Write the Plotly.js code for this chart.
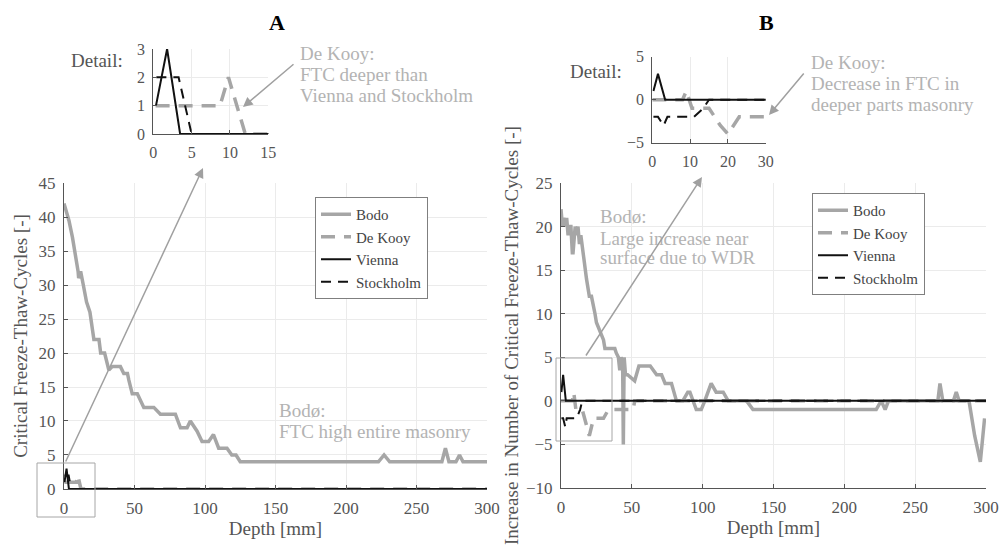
<!DOCTYPE html>
<html><head><meta charset="utf-8">
<script src="https://cdn.plot.ly/plotly-3.0.1.min.js"></script>
<style>html,body{margin:0;padding:0;background:#fff}#chart{width:1000px;height:546px}</style>
</head><body><div id="chart"></div>
<script>
// ---------- Panel A: critical freeze-thaw cycles ----------
const depthBodoA = [0, 3.5, 6, 8.3, 10, 10.4, 11.8, 13.7, 16, 18.4, 21.2, 24.8, 26, 28.8, 30.7, 31.8, 34.2, 40, 42.4, 45, 46, 48.4, 52, 56.6, 63.7, 68.4, 79, 82.6, 87.3, 89.6, 94.4, 97.9, 102.6, 106, 109.7, 115.6, 119, 122, 125, 223, 227, 231, 268, 270.5, 273, 278, 280.5, 283, 300];
const valBodoA   = [42, 39.5, 37, 34.5, 32, 31, 32, 30, 27.5, 26, 22, 22, 20, 20, 18, 17.5, 18, 18, 17, 17, 16, 14, 14, 12, 12, 11, 11, 9, 9, 10, 8.5, 7, 7, 8, 6, 6, 5, 5, 4, 4, 5, 4, 4, 6, 4, 4, 5, 4, 4];
const depthDeKooyA = [0.3, 8.7, 9.8, 12, 300];
const valDeKooyA   = [1, 1, 2, 0, 0];
const depthViennaA = [0.35, 1.8, 3.5, 300];
const valViennaA   = [1, 3, 0, 0];
const depthStockholmA = [0.4, 3.3, 5, 300];
const valStockholmA   = [2, 2, 0, 0];

// ---------- Panel B: increase in critical freeze-thaw cycles ----------
const depthBodoB = [0, 1, 2, 3, 4, 5, 6, 7, 8, 8.5, 10, 11, 12, 13, 14, 15, 16, 18, 20, 21.5, 23, 24, 25, 27.5, 30, 31, 38, 39, 40.5, 41.5, 42.5, 43.5, 44, 44.6, 45.5, 47, 49, 52, 55, 58, 63, 67.5, 71, 73.5, 78, 81.5, 86, 89.5, 91, 95.5, 99, 101.5, 106, 109.5, 114.5, 118, 131, 135.5, 222.5, 226, 228.8, 231.2, 266, 267.5, 269.5, 277, 279, 281, 288, 292, 296, 299];
const valBodoB   = [22, 20, 21, 20, 21, 19, 20, 20, 17, 17, 20, 19, 20, 18, 19, 18, 16.5, 14, 12, 12, 11, 10, 9, 8, 7, 6, 6, 5.5, 5, 3.5, 5, 4.5, -5, 5, 3, 3, 2.7, 2.3, 4, 4, 4, 3, 3, 2, 2, 0, 0, 1, 1, -1, -1, 0, 2, 1, 1, 0, 0, -1, -1, 0, -1, 0, 0, 2, 0, 0, 1, 0, 0, -4, -7, -2];
const depthDeKooyB = [0, 8, 9, 10.5, 15, 18, 20, 21.5, 23, 30, 33.5, 51, 52, 300];
const valDeKooyB   = [0, 0, 1, -1, -1, -3, -4, -3, -2, -2, -1, -1, 0, 0];
const depthViennaB = [0.3, 1.5, 3.4, 300];
const valViennaB   = [1, 3, 0, 0];
const depthStockholmB = [0.3, 1.5, 3, 4, 11, 13.5, 15, 300];
const valStockholmB   = [-2, -2, -3, -2, -2, -1, 0, 0];

const seriesNames = ['Bodo', 'De Kooy', 'Vienna', 'Stockholm'];

// ---------- styling ----------
const FONT = 'Liberation Serif, Times New Roman, serif';
const GRAY = '#a6a6a6';
const BLACK = '#111111';
const TXT = '#555555';
const NOTE = '#b3b3b3';
const styles = [
  {color: GRAY, width: 3.5, dash: 'solid'},
  {color: GRAY, width: 3.5, dash: '14px,9px'},
  {color: BLACK, width: 2, dash: 'solid'},
  {color: BLACK, width: 2, dash: '10px,7px'}
];

function line(x, y, i, xa, ya, legend, show) {
  return {x: x, y: y, type: 'scatter', mode: 'lines', name: seriesNames[i],
    xaxis: xa, yaxis: ya, legend: legend, showlegend: show, hoverinfo: 'skip',
    line: {color: styles[i].color, width: styles[i].width, dash: styles[i].dash}};
}
const setA = [[depthBodoA, valBodoA], [depthDeKooyA, valDeKooyA], [depthViennaA, valViennaA], [depthStockholmA, valStockholmA]];
const setB = [[depthBodoB, valBodoB], [depthDeKooyB, valDeKooyB], [depthViennaB, valViennaB], [depthStockholmB, valStockholmB]];
const traces = [];
setA.forEach((s, i) => traces.push(line(s[0], s[1], i, 'x', 'y', 'legend', true)));
setB.forEach((s, i) => traces.push(line(s[0], s[1], i, 'x2', 'y2', 'legend2', true)));
setA.forEach((s, i) => traces.push(line(s[0], s[1], i, 'x3', 'y3', 'legend', false)));
setB.forEach((s, i) => traces.push(line(s[0], s[1], i, 'x4', 'y4', 'legend', false)));

function ax(domain, range, dtick, anchor, size, extra) {
  return Object.assign({domain: domain, range: range, dtick: dtick, anchor: anchor,
    showline: true, linecolor: '#555', linewidth: 1, mirror: false,
    ticks: 'inside', ticklen: 4, tickcolor: '#555', ticklabelstandoff: 4,
    showgrid: true, gridcolor: '#ebebeb', gridwidth: 1, zeroline: false,
    tickfont: {family: FONT, size: size, color: TXT}, fixedrange: true}, extra || {});
}
const titleFont = {family: FONT, size: 19, color: TXT};

function P(px, py) { return {x: px / 1000, y: 1 - py / 546}; }
function arrow(hx, hy, tx, ty) {
  const h = P(hx, hy);
  return {x: h.x, y: h.y, xref: 'paper', yref: 'paper', text: '', showarrow: true,
    ax: tx - hx, ay: ty - hy, axref: 'pixel', ayref: 'pixel',
    arrowhead: 2, arrowsize: 1.3, arrowwidth: 1.5, arrowcolor: '#a0a0a0', standoff: 0};
}
function note(text, px, py, color, size, xanchor, yanchor, align) {
  const p = P(px, py);
  return {x: p.x, y: p.y, xref: 'paper', yref: 'paper', text: text, showarrow: false,
    xanchor: xanchor, yanchor: yanchor, align: align || 'left',
    font: {family: FONT, size: size, color: color}};
}
// multi-line note: one annotation per line, at the reference line centres
function noteLines(lines, px, centres) {
  return lines.map((t, k) => note(t, px, centres[k], NOTE, 19, 'left', 'middle'));
}

const layout = {
  width: 1000, height: 546,
  margin: {l: 0, r: 0, t: 0, b: 0},
  paper_bgcolor: '#fff', plot_bgcolor: '#fff',
  showlegend: true,
  xaxis: ax([0.064, 0.487], [0, 300], 50, 'y', 17, {title: {text: 'Depth [mm]', font: titleFont, standoff: 3}}),
  yaxis: ax([0.1044, 0.6648], [0, 45], 5, 'x', 17, {title: {text: 'Critical Freeze-Thaw-Cycles [-]', font: titleFont, standoff: 5}}),
  xaxis2: ax([0.561, 0.986], [0, 300], 50, 'y2', 17, {title: {text: 'Depth [mm]', font: titleFont, standoff: 3}}),
  yaxis2: ax([0.1062, 0.6648], [-10, 25], 5, 'x2', 17, {title: {text: 'Increase in Number of Critical Freeze-Thaw-Cycles [-]', font: titleFont, standoff: 2}}),
  xaxis3: ax([0.1533, 0.2683], [0, 15], 5, 'y3', 16),
  yaxis3: ax([0.7546, 0.9103], [0, 3], 1, 'x3', 16),
  xaxis4: ax([0.6523, 0.7657], [0, 30], 10, 'y4', 16),
  yaxis4: ax([0.7387, 0.8962], [-5, 5], 5, 'x4', 16),
  legend: {x: 0.315, y: 1 - 197 / 546, xanchor: 'left', yanchor: 'top', bgcolor: '#fff',
    bordercolor: '#7f7f7f', borderwidth: 1, font: {family: FONT, size: 15, color: '#444'}, tracegroupgap: 0},
  legend2: {x: 0.812, y: 1 - 193 / 546, xanchor: 'left', yanchor: 'top', bgcolor: '#fff',
    bordercolor: '#7f7f7f', borderwidth: 1, font: {family: FONT, size: 15, color: '#444'}, tracegroupgap: 0},
  shapes: [
    {type: 'rect', xref: 'paper', yref: 'paper', x0: 0.037, x1: 0.095, y0: 1 - 517 / 546, y1: 1 - 463 / 546,
      line: {color: '#a6a6a6', width: 1}},
    {type: 'rect', xref: 'paper', yref: 'paper', x0: 0.556, x1: 0.612, y0: 1 - 441 / 546, y1: 1 - 358 / 546,
      line: {color: '#a6a6a6', width: 1}}
  ],
  annotations: [
    note('<b>A</b>', 277, 23, '#000', 22, 'center', 'middle', 'center'),
    note('<b>B</b>', 766, 23, '#000', 22, 'center', 'middle', 'center'),
    note('Detail:', 125, 60, TXT, 19, 'right', 'middle'),
    note('Detail:', 624, 72, TXT, 19, 'right', 'middle'),
    ...noteLines(['De Kooy:', 'FTC deeper than', 'Vienna and Stockholm'], 298, [54, 75, 95]),
    ...noteLines(['De Kooy:', 'Decrease in FTC in', 'deeper parts masonry'], 809, [62, 83, 104]),
    ...noteLines(['Bodø:', 'FTC high entire masonry'], 277, [410, 431]),
    ...noteLines(['Bodø:', 'Large increase near', 'surface due to WDR'], 598, [217, 238, 257]),
    arrow(203, 168, 65, 463),
    arrow(243, 107, 295, 63),
    arrow(702, 177, 585, 357),
    arrow(769, 115, 805, 72)
  ]
};

Plotly.newPlot('chart', traces, layout, {displayModeBar: false, staticPlot: true});
</script></body></html>
